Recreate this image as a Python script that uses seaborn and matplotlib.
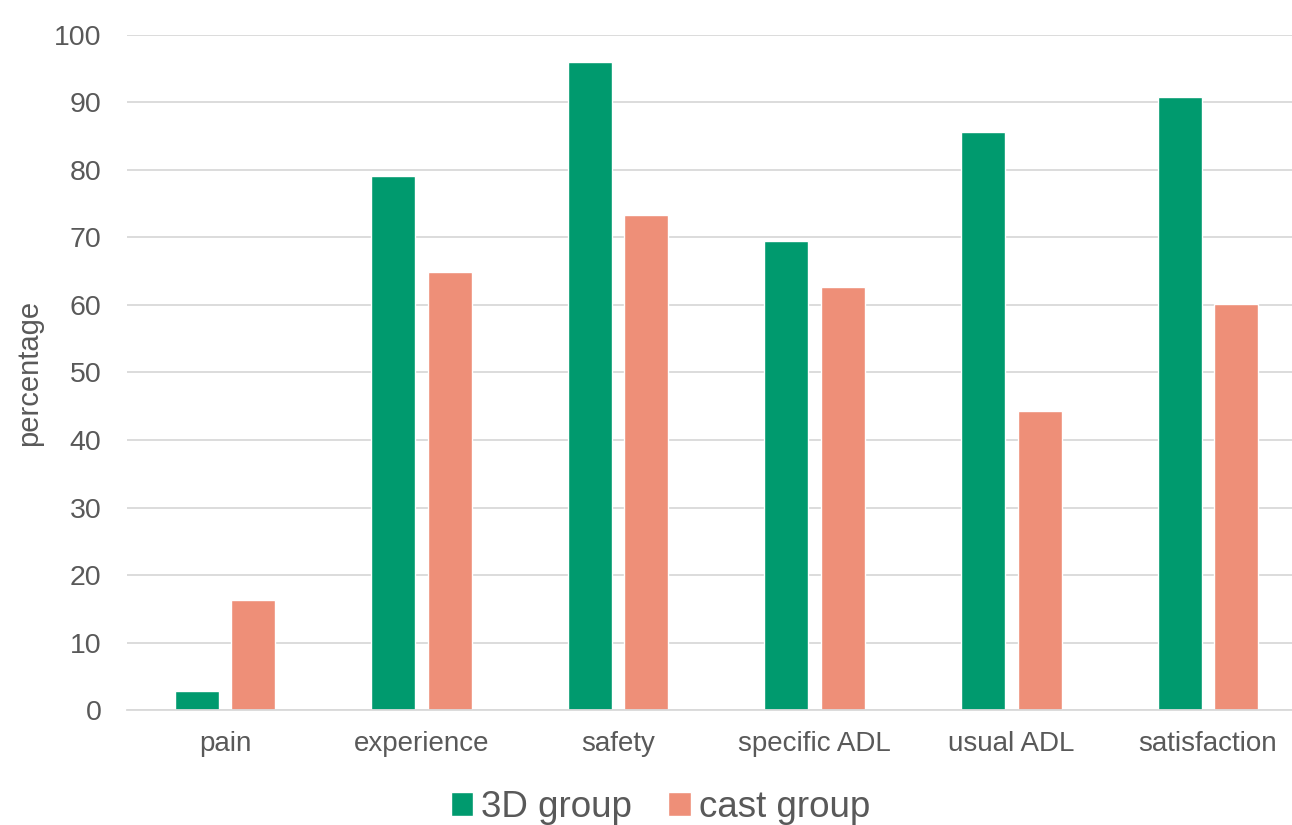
import matplotlib
matplotlib.use("Agg")
import matplotlib.pyplot as plt
import seaborn as sns
import pandas as pd
from matplotlib.patches import Patch

categories = ["pain", "experience", "safety", "specific ADL", "usual ADL", "satisfaction"]
groups = ["3D group", "cast group"]
vals_3d = [2.8, 79.1, 96.0, 69.5, 85.6, 90.8]
vals_cast = [16.3, 64.8, 73.3, 62.7, 44.3, 60.1]
colors = ["#009A6E", "#EE8F78"]

df = pd.DataFrame({
    "category": categories * 2,
    "group": [groups[0]] * len(categories) + [groups[1]] * len(categories),
    "value": vals_3d + vals_cast,
})

sns.set_theme(style="white")
plt.rcParams["font.family"] = ["Liberation Sans", "DejaVu Sans"]
text_color = "#595959"

fig = plt.figure(figsize=(12.92, 8.25), dpi=100)
ax = fig.add_axes([0.098, 0.139, 0.913, 0.819])

sns.barplot(data=df, x="category", y="value", hue="group", palette=colors,
            width=0.575, gap=0.22, ax=ax, legend=False, saturation=1)

ax.set_ylim(0, 100)
ax.set_xlim(-0.5, len(categories) - 0.5)
ax.set_yticks(range(0, 101, 10))
ax.yaxis.grid(True, color="#d9d9d9", linewidth=1.3)
ax.set_axisbelow(True)
for s in ["top", "right", "left"]:
    ax.spines[s].set_visible(False)
ax.spines["bottom"].set_color("#d9d9d9")
ax.spines["bottom"].set_linewidth(1.3)
ax.tick_params(axis="y", labelsize=20.5, colors=text_color, length=0, pad=18)
ax.tick_params(axis="x", labelsize=20, colors=text_color, length=0, pad=15)
ax.set_xlabel("")
ax.set_ylabel("percentage", fontsize=21, color=text_color, labelpad=8)

handles = [Patch(facecolor=c, label=g) for c, g in zip(colors, groups)]
fig.legend(handles=handles, loc="lower center", bbox_to_anchor=(0.511, -0.04), ncol=2,
           frameon=False, fontsize=26.5, handlelength=0.6, handleheight=0.6,
           handletextpad=0.22, columnspacing=1.0, labelcolor=text_color)

fig.savefig("out.png", dpi=100)
